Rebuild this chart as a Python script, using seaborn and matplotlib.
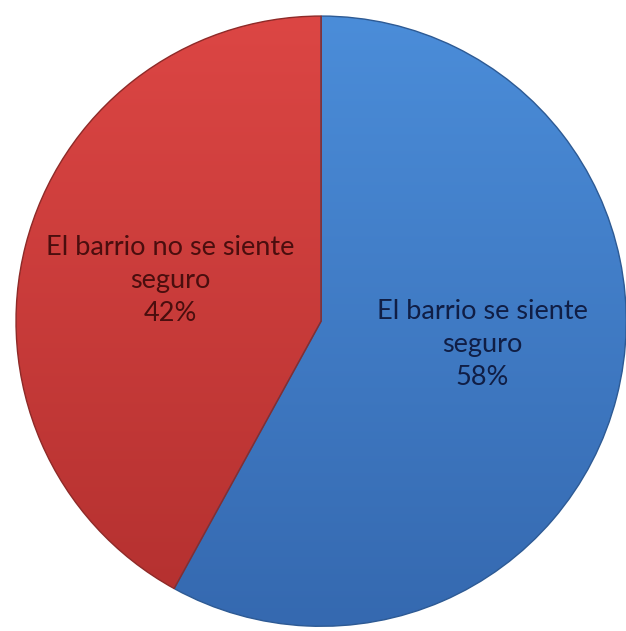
import numpy as np
import seaborn as sns
import matplotlib.pyplot as plt
from matplotlib.colors import LinearSegmentedColormap

# Data
categories = ['El barrio se siente\nseguro', 'El barrio no se siente\nseguro']
percentages = [58, 42]

# Colours (top of gradient, bottom of gradient, edge, text)
top_colors = ['#4b8dd9', '#dc4644']
bottom_colors = ['#3569b0', '#b3302f']
edge_colors = ['#2d5a94', '#8e2a28']
text_colors = ['#101e45', '#4a0e0e']

sns.set_theme(style='white')
plt.rcParams['font.family'] = ['Lato', 'DejaVu Sans']

fig = plt.figure(figsize=(6.26, 6.31), dpi=100)
ax = fig.add_axes([0.024, 0.006, 0.978, 0.970])

labels = [f'{c}\n{p}%' for c, p in zip(categories, percentages)]
wedges, texts = ax.pie(percentages, labels=labels, startangle=90, counterclock=False,
                       labeldistance=0.53, radius=1,
                       wedgeprops={'linewidth': 1.0},
                       textprops={'fontsize': 19.5, 'linespacing': 1.4})

# Vertical gradient fill clipped to each wedge
grad = np.linspace(0, 1, 256).reshape(-1, 1)
for i, w in enumerate(wedges):
    w.set_facecolor('none')
    w.set_edgecolor(edge_colors[i])
    cmap = LinearSegmentedColormap.from_list(f'g{i}', [top_colors[i], bottom_colors[i]])
    im = ax.imshow(grad, cmap=cmap, extent=[-1, 1, -1, 1], origin='upper',
                   aspect='auto', zorder=w.get_zorder() - 0.5)
    im.set_clip_path(w)
    texts[i].set_color(text_colors[i])
    texts[i].set_ha('center')
    texts[i].set_multialignment('center')
    texts[i].set_zorder(5)

# small label nudges to match the original placement
x, y = texts[0].get_position()
texts[0].set_position((x + 0.015, y + 0.055))
x, y = texts[1].get_position()
texts[1].set_position((x + 0.02, y))

ax.set_xlim(-1.003, 1.003)
ax.set_ylim(-1.003, 1.003)
ax.set_aspect('equal')
ax.axis('off')

fig.savefig('out.png', dpi=100, facecolor='white')
